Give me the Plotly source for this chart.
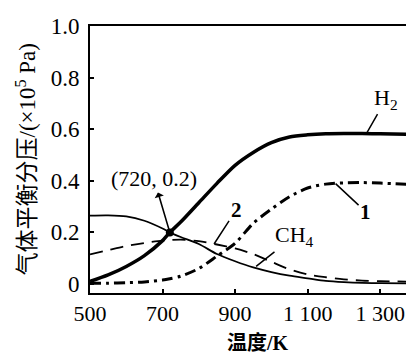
import plotly.graph_objects as go

# Temperature (K)
temp_k = [500, 550, 600, 650, 700, 720, 750, 800, 850, 900, 950, 1000, 1050, 1100, 1150, 1200, 1250, 1300, 1385]
# Equilibrium partial pressures (x10^5 Pa)
h2 = [0.010, 0.035, 0.068, 0.110, 0.168, 0.200, 0.240, 0.315, 0.390, 0.460, 0.510, 0.548, 0.570, 0.578, 0.582, 0.583, 0.583, 0.582, 0.580]
ch4 = [0.265, 0.266, 0.262, 0.245, 0.215, 0.200, 0.182, 0.155, 0.116, 0.088, 0.064, 0.046, 0.032, 0.022, 0.012, 0.007, 0.004, 0.003, 0.002]
curve2 = [0.115, 0.131, 0.147, 0.159, 0.168, 0.170, 0.172, 0.166, 0.153, 0.138, 0.116, 0.086, 0.057, 0.037, 0.026, 0.018, 0.013, 0.011, 0.009]
curve1 = [0.003, 0.003, 0.005, 0.008, 0.015, 0.020, 0.030, 0.060, 0.108, 0.158, 0.235, 0.290, 0.338, 0.372, 0.387, 0.392, 0.393, 0.391, 0.386]

x_ticks = [500, 700, 900, 1100, 1300]
x_ticktext = ["500", "700", "900", "1 100", "1 300"]
y_ticks = [0, 0.2, 0.4, 0.6, 0.8, 1.0]
y_ticktext = ["0", "0.2", "0.4", "0.6", "0.8", "1.0"]

point_x = [720]
point_y = [0.2]

serif = "Liberation Serif, Noto Sans CJK SC, serif"
tick_serif = "Liberation Serif"

fig = go.Figure()
fig.add_trace(go.Scatter(x=temp_k, y=curve2, mode="lines",
                         line=dict(color="black", width=1.8, dash="13px,8px", shape="spline", smoothing=0.8)))
fig.add_trace(go.Scatter(x=temp_k, y=ch4, mode="lines",
                         line=dict(color="black", width=1.8, shape="spline", smoothing=0.8)))
fig.add_trace(go.Scatter(x=temp_k, y=curve1, mode="lines",
                         line=dict(color="black", width=3, dash="11px,5px,3px,5px", shape="spline", smoothing=0.8)))
fig.add_trace(go.Scatter(x=temp_k, y=h2, mode="lines",
                         line=dict(color="black", width=3.5, shape="spline", smoothing=0.8)))
fig.add_trace(go.Scatter(x=point_x, y=point_y, mode="markers",
                         marker=dict(color="black", size=8)))

label_font = dict(family=serif, size=22, color="black")
ann = [
    dict(x=720, y=0.2, text="(720, 0.2)", ax=-16, ay=-54, showarrow=True,
         arrowhead=2, arrowside="start", arrowwidth=1.6, arrowsize=1, arrowcolor="black",
         font=label_font),
    dict(x=1262, y=0.583, text="H<sub>2</sub>", ax=20, ay=-35, showarrow=True,
         arrowhead=0, arrowwidth=1.5, arrowcolor="black", font=label_font),
    dict(x=1177, y=0.389, text="<b>1</b>", ax=30, ay=28, showarrow=True,
         arrowhead=0, arrowwidth=1.5, arrowcolor="black", font=dict(family=serif, size=21, color="black")),
    dict(x=842, y=0.155, text="<b>2</b>", ax=22, ay=-34, showarrow=True,
         arrowhead=0, arrowwidth=1.5, arrowcolor="black", font=dict(family=serif, size=21, color="black")),
    dict(x=958, y=0.068, text="CH<sub>4</sub>", ax=38, ay=-30, showarrow=True,
         arrowhead=0, arrowwidth=1.5, arrowcolor="black", font=label_font),
    dict(xref="paper", yref="paper", x=0, y=0.50, xshift=-64, text="气体平衡分压/(×10<sup>5</sup> Pa)",
         textangle=-90, showarrow=False, xanchor="center", yanchor="middle",
         font=dict(family=serif, size=23, color="black")),
    dict(xref="paper", yref="paper", x=0.523, y=0, yshift=-50, text="<b>温度/K</b>",
         showarrow=False, xanchor="center", yanchor="middle",
         font=dict(family=serif, size=20, color="black")),
]

# The page body adds an 8 px offset, so the figure is 8 px smaller than the window
fig.update_layout(
    width=406, height=352,
    margin=dict(l=82, r=1, t=18, b=67),
    paper_bgcolor="white", plot_bgcolor="white",
    font=dict(family=serif, size=22, color="black"),
    showlegend=False,
    annotations=ann,
    xaxis=dict(range=[500, 1385], tickmode="array", tickvals=x_ticks, ticktext=x_ticktext,
               showline=True, mirror=True, linecolor="black", linewidth=2,
               ticks="inside", ticklen=4, tickwidth=1.5, tickcolor="black",
               showgrid=False, zeroline=False,
               tickfont=dict(family=tick_serif, size=22, color="black")),
    yaxis=dict(range=[-0.035, 1.0], tickmode="array", tickvals=y_ticks, ticktext=y_ticktext,
               showline=True, mirror=True, linecolor="black", linewidth=2,
               ticks="inside", ticklen=4, tickwidth=1.5, tickcolor="black",
               showgrid=False, zeroline=False, ticklabelstandoff=4,
               tickfont=dict(family=tick_serif, size=23, color="black")),
)

fig.write_html("out.html")
